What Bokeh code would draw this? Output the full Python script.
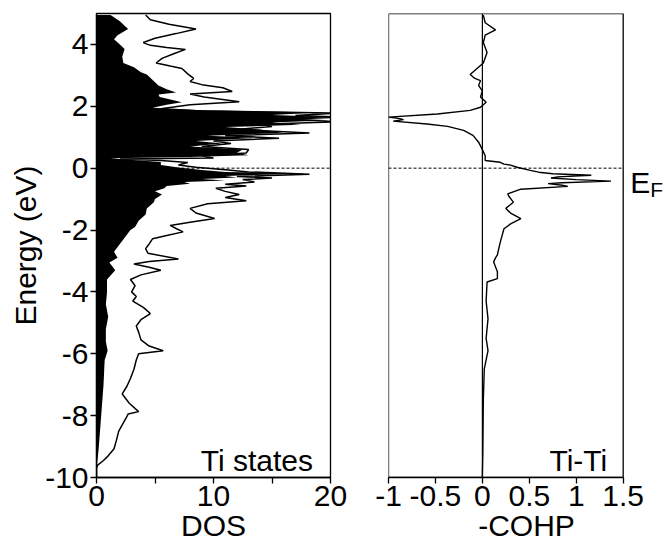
from bokeh.plotting import figure
from bokeh.models import Range1d, FixedTicker, Span, Label, BoxAnnotation
from bokeh.layouts import row
from bokeh.embed import file_html
from bokeh.resources import INLINE

# ---------------- data ----------------
# total DOS (outline)
tot_E = [4.95, 4.8, 4.65, 4.5, 4.35, 4.2, 4.06, 3.97, 3.9, 3.84, 3.7, 3.55, 3.4, 3.3, 3.22,
         3.05, 2.9, 2.8, 2.7, 2.6, 2.48, 2.4, 2.3, 2.15, 2.05, 1.92, 1.85, 1.78, 1.7, 1.65,
         1.58, 1.5, 1.42, 1.35, 1.25, 1.14, 1.05, 0.97, 0.88, 0.8, 0.7, 0.6, 0.49, 0.4, 0.33,
         0.3, 0.25, 0.18, 0.1, 0.03, -0.05, -0.12, -0.2, -0.27, -0.32, -0.37, -0.45, -0.52,
         -0.58, -0.65, -0.75, -0.85, -0.95, -1.05, -1.15, -1.3, -1.45, -1.63, -1.75, -1.85,
         -1.95, -2.06, -2.18, -2.28, -2.45, -2.6, -2.75, -2.94, -3.02, -3.1, -3.2, -3.3, -3.45,
         -3.6, -3.8, -4.0, -4.15, -4.3, -4.5, -4.7, -4.9, -5.1, -5.3, -5.55, -5.75, -5.9, -6.0,
         -6.2, -6.5, -6.8, -7.05, -7.3, -7.6, -7.87, -7.95, -8.1, -8.5, -8.8, -9.07, -9.3,
         -9.45, -9.6, -9.7, -10.0]
tot_dos = [4.2, 4.6, 6.2, 8.5, 6.8, 5.0, 4.0, 4.6, 6.0, 7.6, 6.6, 5.6, 5.1, 6.3, 7.3,
           7.8, 8.3, 8.0, 9.0, 10.8, 11.6, 8.0, 9.2, 12.2, 8.0, 5.5, 9.0, 20.5, 17.0, 21.0,
           16.0, 20.5, 14.0, 15.0, 12.0, 18.2, 11.0, 15.6, 10.0, 11.5, 9.0, 13.0, 12.8, 9.0, 10.0,
           2.0, 5.5, 7.8, 7.0, 8.5, 11.0, 13.0, 18.2, 12.0, 15.0, 12.5, 13.5, 11.0,
           12.8, 10.2, 11.0, 12.2, 11.0, 12.8, 9.5, 8.0, 8.5, 10.1, 8.0, 6.3,
           6.8, 7.4, 6.0, 4.8, 4.5, 4.2, 4.4, 7.0, 4.5, 3.2, 4.5, 5.5, 3.8,
           2.9, 3.3, 3.0, 3.4, 3.1, 4.0, 4.6, 3.8, 3.4, 3.6, 3.8, 4.5, 5.7, 3.6,
           3.4, 3.2, 2.9, 2.6, 2.2, 2.8, 3.6, 2.7, 2.5, 1.9, 1.7, 1.5, 1.0,
           0.6, 0.1, 0.0, 0.0]

# Ti projected DOS (filled)
ti_E = [4.95, 4.75, 4.5, 4.3, 4.17, 4.0, 3.85, 3.6, 3.4, 3.26, 3.1, 3.03, 2.85, 2.67, 2.55,
        2.45, 2.38, 2.3, 2.2, 2.13, 2.05, 1.95, 1.88, 1.8, 1.72, 1.65, 1.6, 1.55, 1.48, 1.4,
        1.33, 1.25, 1.14, 1.05, 0.98, 0.88, 0.8, 0.7, 0.6, 0.5, 0.42, 0.36, 0.32, 0.28, 0.2,
        0.1, 0.02, -0.06, -0.12, -0.18, -0.25, -0.3, -0.35, -0.4, -0.45, -0.5, -0.58, -0.65,
        -0.75, -0.85, -1.0, -1.1, -1.3, -1.5, -1.7, -1.9, -2.0, -2.2, -2.5, -2.7, -2.9, -3.05,
        -3.3, -3.6, -4.0, -4.4, -4.8, -5.2, -5.6, -5.9, -6.2, -6.6, -7.0, -7.5, -8.0, -8.5,
        -9.0, -9.4, -9.7, -10.0]
ti_dos = [1.2, 2.0, 2.7, 1.8, 1.5, 2.0, 2.4, 2.2, 2.3, 3.2, 3.8, 4.3, 4.8, 5.3, 6.0,
          6.8, 5.3, 5.4, 6.5, 7.3, 6.0, 4.8, 8.5, 19.0, 15.0, 20.5, 17.0, 20.0, 15.0, 17.5,
          11.0, 14.0, 16.0, 9.5, 13.8, 8.5, 10.8, 8.0, 12.5, 12.0, 13.0, 8.0, 1.2, 2.5, 5.5,
          5.5, 7.0, 9.0, 11.0, 17.8, 11.0, 12.0, 9.0, 11.0, 7.5, 8.0, 6.0, 5.8,
          5.0, 5.6, 5.0, 4.9, 4.3, 4.2, 3.6, 3.3, 2.9, 2.5, 1.9, 1.5, 1.8, 1.1,
          1.6, 0.9, 0.9, 0.8, 1.0, 0.8, 0.8, 0.95, 0.7, 0.65, 0.6, 0.5, 0.4, 0.3,
          0.2, 0.1, 0.0, 0.0]

# Ti-Ti -COHP
cohp_E = [4.95, 4.7, 4.47, 4.3, 4.06, 3.74, 3.4, 3.03, 2.9, 2.83, 2.67, 2.5, 2.3, 2.13, 1.97,
          1.87, 1.75, 1.65, 1.6, 1.57, 1.52, 1.43, 1.35, 1.22, 1.06, 0.84, 0.6, 0.4, 0.25,
          0.19, 0.13, 0.1, 0.03, -0.07, -0.13, -0.18, -0.23, -0.28, -0.32, -0.37, -0.42, -0.47,
          -0.5, -0.55, -0.59, -0.68, -0.83, -0.9, -1.1, -1.3, -1.45, -1.63, -1.8, -1.96, -2.4,
          -2.8, -2.9, -3.03, -3.35, -3.57, -3.68, -4.3, -4.87, -5.5, -5.9, -6.5, -7.5, -9.2,
          -10.0]
cohp = [0.01, 0.03, 0.14, 0.03, 0.01, 0.05, 0.01, -0.13, -0.08, -0.02, -0.04, 0.0, -0.02, 0.04, -0.02,
        -0.13, -0.48, -1.0, -0.88, -0.84, -0.95, -0.59, -0.37, -0.2, -0.1, -0.04, 0.0, 0.03, 0.03,
        0.19, 0.23, 0.3, 0.37, 0.51, 0.6, 0.75, 1.16, 0.8, 0.73, 1.0, 1.37, 0.85,
        0.7, 0.85, 0.91, 0.41, 0.27, 0.28, 0.33, 0.25, 0.3, 0.41, 0.3, 0.23, 0.19,
        0.16, 0.14, 0.12, 0.16, 0.16, 0.05, 0.04, 0.06, 0.04, 0.06, 0.02, 0.01, 0.005,
        0.0]

dos_ticks = [0, 5, 10, 15, 20]
dos_tick_labels = ["0", "", "10", "", "20"]
cohp_ticks = [-1, -0.5, 0, 0.5, 1, 1.5]
cohp_tick_labels = ["-1", "-0.5", "0", "0.5", "1", "1.5"]
e_ticks = [-10, -8, -6, -4, -2, 0, 2, 4]
e_tick_labels = ["-10", "-8", "-6", "-4", "-2", "0", "2", "4"]

E_MIN, E_MAX = -10, 5
DOS_MIN, DOS_MAX = 0, 20
COHP_MIN, COHP_MAX = -1, 1.5
FERMI = 0

FONT = "Liberation Sans"
FS = "30px"

yr = Range1d(E_MIN, E_MAX)


def style(p):
    p.xgrid.visible = False
    p.ygrid.visible = False
    for ax in p.axis:
        ax.axis_line_color = "black"
        ax.axis_line_width = 1.3
        ax.major_tick_line_color = "black"
        ax.major_tick_line_width = 1.3
        ax.major_tick_out = 6
        ax.major_tick_in = 0
        ax.minor_tick_line_color = None
        ax.major_label_text_font = FONT
        ax.major_label_text_font_size = FS
        ax.major_label_text_color = "black"
        ax.axis_label_text_font = FONT
        ax.axis_label_text_font_size = FS
        ax.axis_label_text_font_style = "normal"
        ax.axis_label_text_color = "black"
        ax.major_label_standoff = 2
        ax.axis_label_standoff = 0
    p.background_fill_color = "white"
    p.border_fill_color = "white"


# ---------------- left panel ----------------
p1 = figure(width=359, height=552, x_range=Range1d(DOS_MIN, DOS_MAX), y_range=yr,
            output_backend="svg", toolbar_location=None,
            min_border_left=96, min_border_right=29, min_border_top=13, min_border_bottom=75)
p1.add_layout(Span(location=FERMI, dimension="width", line_color="black",
                   line_dash="3 2", line_width=1, level="underlay"))
p1.harea(x1=0, x2=ti_dos, y=ti_E, fill_color="black", fill_alpha=1)
p1.line(x=tot_dos, y=tot_E, line_color="black", line_width=1.5)
p1.xaxis.ticker = FixedTicker(ticks=dos_ticks)
p1.xaxis.major_label_overrides = {t: l for t, l in zip(dos_ticks, dos_tick_labels)}
p1.yaxis.ticker = FixedTicker(ticks=e_ticks)
p1.yaxis.major_label_overrides = {t: l for t, l in zip(e_ticks, e_tick_labels)}
p1.xaxis.axis_label = "DOS"
p1.yaxis.axis_label = "Energy (eV)"
p1.outline_line_color = "black"
p1.outline_line_width = 1.3
p1.outline_line_alpha = 1
style(p1)
p1.add_layout(Label(x=18.5, y=-9.45, text="Ti states", text_align="right",
                    text_baseline="alphabetic", text_font=FONT, text_font_size=FS,
                    text_color="black"))

# ---------------- right panel ----------------
# frame extends past 1.5 to leave room for the E_F label; the panel box is drawn explicitly
p2 = figure(width=305, height=552, x_range=Range1d(COHP_MIN, 1.94), y_range=yr,
            output_backend="svg", toolbar_location=None,
            min_border_left=29, min_border_right=0, min_border_top=13, min_border_bottom=75)
p2.outline_line_color = None
p2.add_layout(Span(location=0, dimension="height", line_color="black",
                   line_width=1.2, level="underlay"))
p2.line(x=[COHP_MIN, COHP_MAX], y=[FERMI, FERMI], line_color="black",
        line_dash="3 2", line_width=1, level="underlay")
p2.line(x=cohp, y=cohp_E, line_color="black", line_width=1.4)
p2.add_layout(BoxAnnotation(left=COHP_MIN, right=COHP_MAX, fill_alpha=0,
                            line_color="black", line_width=1.3, line_alpha=1))
p2.xaxis.ticker = FixedTicker(ticks=cohp_ticks)
p2.xaxis.major_label_overrides = {t: l for t, l in zip(cohp_ticks, cohp_tick_labels)}
p2.xaxis.bounds = (COHP_MIN, COHP_MAX)
p2.yaxis.visible = False
p2.xaxis.axis_label = "-COHP"
style(p2)
p2.xaxis.axis_label_text_align = "center"
p2.add_layout(Label(x=1.33, y=-9.45, text="Ti-Ti", text_align="right",
                    text_baseline="alphabetic", text_font=FONT, text_font_size=FS,
                    text_color="black"))
p2.add_layout(Label(x=COHP_MAX, y=FERMI, x_offset=7, y_offset=-14, text="E", text_align="left",
                    text_baseline="alphabetic", text_font=FONT, text_font_size="30px",
                    text_color="black"))
p2.add_layout(Label(x=COHP_MAX, y=FERMI, x_offset=27, y_offset=-21, text="F", text_align="left",
                    text_baseline="alphabetic", text_font=FONT, text_font_size="21px",
                    text_color="black"))

layout = row(p1, p2)
open("out.html", "w").write(file_html(layout, INLINE))
